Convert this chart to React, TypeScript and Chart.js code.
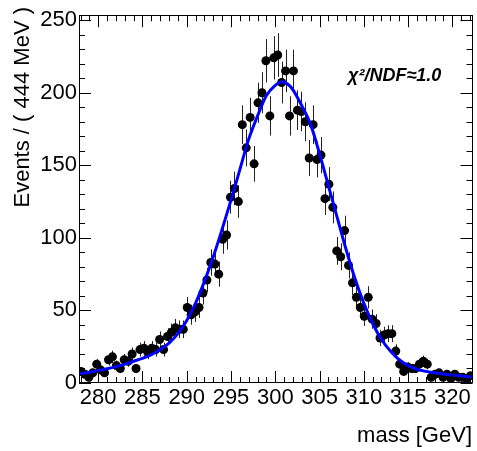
import React, { useEffect, useRef } from "react";
import { Chart, registerables } from "chart.js";

Chart.register(...registerables);

// ---- axis ranges and binning ----
const X_MIN = 277.83;
const X_MAX = 322.28;
const Y_MIN = 0;
const Y_MAX = 253.4;
const BIN_WIDTH = 0.4445;

// ---- tick labels ----
const X_TICKS = [280, 285, 290, 295, 300, 305, 310, 315, 320];
const Y_TICKS = [0, 50, 100, 150, 200, 250];
const X_MINOR_STEP = 1;
const Y_MINOR_STEP = 10;

// ---- texts ----
const X_TITLE = "mass [GeV]";
const Y_TITLE = "Events / ( 444 MeV )";
const FIT_LABEL = "\u03C7\u00B2/NDF\u22481.0";

// ---- data: event counts per bin ----
const COUNTS = [
  8, 6, 4, 7, 13, 9, 7, 16, 18, 12,
  10, 16, 15, 20, 10, 23, 24, 21, 24, 23,
  30, 23, 32, 35, 38, 37, 37, 52, 47, 49,
  52, 62, 71, 83, 82, 75, 99, 102, 128, 134,
  125, 178, 162, 183, 151, 193, 200, 222, 184, 224,
  226, 207, 215, 184, 215, 188, 187, 180, 155, 178,
  154, 157, 127, 137, 121, 91, 87, 105, 81, 69,
  59, 52, 46, 59, 44, 41, 31, 33, 34, 34,
  22, 13, 8, 11, 10, 10, 13, 15, 13, 4,
  6, 7, 4, 6, 3, 6, 4, 4, 3, 5,
];

// ---- fit curve samples ----
const FIT_X = [
  277.85, 279, 280, 281, 282, 283, 284, 285, 286, 287, 288, 289, 290, 291, 292,
  293, 294, 295, 296, 297, 298, 299, 300, 300.75, 301.5, 302, 303, 304, 305,
  306, 307, 308, 309, 310, 311, 312, 313, 314, 315, 316, 317, 318, 319, 320,
  321, 322.28,
];
const FIT_Y = [
  6.3, 7.4, 8.6, 9.8, 11.3, 13, 15, 17, 19.5, 23, 27.5, 34, 43, 55, 70,
  87, 106, 126, 147, 168, 184, 198, 205, 207.5, 205.5, 202, 191, 178, 158,
  136, 114, 92, 72, 55, 41, 30, 22, 16, 12, 9.5, 8, 7, 6.2, 5.5,
  4.8, 4,
];

const FONT = '"Liberation Sans", Arial, Helvetica, sans-serif';

const rootStyle = {
  id: "rootStyle",
  beforeDatasetsDraw(chart: any) {
    const { ctx, chartArea, scales } = chart;
    const x = scales.x;
    const y = scales.y;
    ctx.save();
    ctx.beginPath();
    ctx.rect(chartArea.left, chartArea.top, chartArea.right - chartArea.left, chartArea.bottom - chartArea.top);
    ctx.clip();
    ctx.strokeStyle = "#222";
    ctx.lineWidth = 1;
    COUNTS.forEach((n, i) => {
      const cx = X_MIN + (i + 0.5) * BIN_WIDTH;
      const e = Math.sqrt(n);
      const px = Math.round(x.getPixelForValue(cx)) + 0.5;
      ctx.beginPath();
      ctx.moveTo(px, y.getPixelForValue(n - e));
      ctx.lineTo(px, y.getPixelForValue(n + e));
      ctx.stroke();
    });
    ctx.restore();
  },
  afterDraw(chart: any) {
    const { ctx, chartArea, scales } = chart;
    const x = scales.x;
    const y = scales.y;
    const { left, right, top, bottom } = chartArea;
    ctx.save();
    ctx.strokeStyle = "#000";
    ctx.lineWidth = 1;
    // frame
    ctx.strokeRect(Math.round(left) + 0.5, Math.round(top) + 0.5, Math.round(right - left) - 1, Math.round(bottom - top) - 1);
    const MAJ = 12;
    const MIN = 6;
    ctx.beginPath();
    // x ticks
    for (let v = Math.ceil(X_MIN); v <= X_MAX; v += X_MINOR_STEP) {
      const len = X_TICKS.includes(v) ? MAJ : MIN;
      const px = Math.round(x.getPixelForValue(v)) + 0.5;
      ctx.moveTo(px, bottom);
      ctx.lineTo(px, bottom - len);
      ctx.moveTo(px, top);
      ctx.lineTo(px, top + len);
    }
    // y ticks
    for (let v = Y_MIN; v <= Y_MAX; v += Y_MINOR_STEP) {
      const len = Y_TICKS.includes(v) ? MAJ : MIN;
      const py = Math.round(y.getPixelForValue(v)) + 0.5;
      ctx.moveTo(left, py);
      ctx.lineTo(left + len, py);
      ctx.moveTo(right, py);
      ctx.lineTo(right - len, py);
    }
    ctx.stroke();

    // titles
    ctx.fillStyle = "#000";
    ctx.font = `22px ${FONT}`;
    ctx.textAlign = "right";
    ctx.textBaseline = "middle";
    ctx.fillText(X_TITLE, 472, 436);
    ctx.save();
    ctx.translate(23, 7);
    ctx.rotate(-Math.PI / 2);
    ctx.textAlign = "right";
    ctx.fillText(Y_TITLE, 0, 0);
    ctx.restore();

    // fit label
    ctx.font = `italic bold 18px ${FONT}`;
    ctx.textAlign = "left";
    ctx.textBaseline = "middle";
    ctx.fillText(FIT_LABEL, 348, 76);
    ctx.restore();
  },
};

export default function App() {
  const ref = useRef<HTMLCanvasElement | null>(null);
  useEffect(() => {
    if (!ref.current) return;
    const points = COUNTS.map((n, i) => ({ x: X_MIN + (i + 0.5) * BIN_WIDTH, y: n }));
    const fit = FIT_X.map((v, i) => ({ x: v, y: FIT_Y[i] }));
    const chart = new Chart(ref.current, {
      type: "scatter",
      data: {
        datasets: [
          {
            label: "fit",
            data: fit,
            showLine: true,
            borderColor: "#0000ff",
            borderWidth: 3,
            pointRadius: 0,
            cubicInterpolationMode: "monotone",
            fill: false,
          } as any,
          {
            label: "data",
            data: points,
            pointRadius: 4.5,
            pointBackgroundColor: "#000",
            pointBorderColor: "#000",
            pointBorderWidth: 0,
            showLine: false,
          } as any,
        ],
      },
      options: {
        responsive: false,
        animation: false,
        devicePixelRatio: 1,
        layout: { padding: { left: 0, right: 3, top: 9, bottom: 0 } },
        plugins: {
          legend: { display: false },
          tooltip: { enabled: false },
          title: { display: false },
        },
        scales: {
          x: {
            type: "linear",
            min: X_MIN,
            max: X_MAX,
            grid: { display: false, drawTicks: false },
            border: { display: false },
            afterBuildTicks: (s: any) => {
              s.ticks = X_TICKS.map((v) => ({ value: v }));
            },
            afterFit: (s: any) => {
              s.height = 68;
            },
            ticks: {
              autoSkip: false,
              maxRotation: 0,
              padding: 2,
              color: "#000",
              font: { family: FONT, size: 22 },
              callback: (v: any) => String(v),
            },
          },
          y: {
            type: "linear",
            min: Y_MIN,
            max: Y_MAX,
            grid: { display: false, drawTicks: false },
            border: { display: false },
            afterBuildTicks: (s: any) => {
              s.ticks = Y_TICKS.map((v) => ({ value: v }));
            },
            afterFit: (s: any) => {
              s.width = 79;
            },
            ticks: {
              autoSkip: false,
              padding: 2,
              color: "#000",
              font: { family: FONT, size: 22 },
              callback: (v: any) => String(v),
            },
          },
        },
      },
      plugins: [rootStyle],
    });
    return () => chart.destroy();
  }, []);
  return (
    <div style={{ position: "absolute", left: 0, top: 0, width: 477, height: 451, background: "#fff" }}>
      <canvas ref={ref} width={477} height={451} style={{ display: "block", width: 477, height: 451 }} />
    </div>
  );
}
